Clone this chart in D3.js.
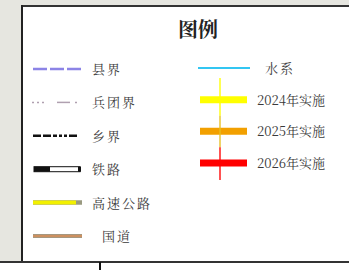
<!DOCTYPE html>
<html><head><meta charset="utf-8">
<script src="https://cdn.jsdelivr.net/npm/d3@7/dist/d3.min.js"></script>
<style>html,body{margin:0;padding:0;background:#fff;overflow:hidden}</style>
</head><body>
<script>
const title = "图例";
const leftLabels = ["县界", "兵团界", "乡界", "铁路", "高速公路", "国道"];
const leftTypes = ["county", "corps", "township", "rail", "highway", "national"];
const rightLabels = ["水系", "2024年实施", "2025年实施", "2026年实施"];
const rightColors = ["#33c6f2", "#ffff00", "#f2a000", "#ff0000"];
const rightWidths = [2, 7, 7, 7];

const W = 349, H = 270;
const svg = d3.select("body").append("svg").attr("width", W).attr("height", H);
const font = "'Noto Serif CJK SC','Noto Sans CJK SC',serif";

svg.append("rect").attr("x",0).attr("y",0).attr("width",W).attr("height",H).attr("fill","#fff");
svg.append("rect").attr("x",0).attr("y",0).attr("width",W).attr("height",6).attr("fill","#e6e6e0");
svg.append("rect").attr("x",0).attr("y",0).attr("width",22).attr("height",262).attr("fill","#e6e6e0");
svg.append("line").attr("x1",22).attr("x2",W).attr("y1",6).attr("y2",6).attr("stroke","#333").attr("stroke-width",2);
svg.append("line").attr("x1",22).attr("x2",22).attr("y1",5).attr("y2",263).attr("stroke","#222").attr("stroke-width",2);
svg.append("line").attr("x1",0).attr("x2",W).attr("y1",262).attr("y2",262).attr("stroke","#333").attr("stroke-width",2);
svg.append("line").attr("x1",100).attr("x2",100).attr("y1",262).attr("y2",270).attr("stroke","#111").attr("stroke-width",2);

svg.append("text").attr("x",198).attr("y",37).attr("text-anchor","middle")
  .attr("font-family",font).attr("font-weight","bold").attr("font-size",20).attr("fill","#222").text(title);

const yL = d3.scalePoint().domain(leftLabels).range([69, 236]);
const yR = d3.scalePoint().domain(rightLabels).range([68, 163]);

const gL = svg.append("g");
leftLabels.forEach((lab, i) => {
  const y = yL(lab), t = leftTypes[i];
  const x1 = 33, x2 = 82;
  if (t === "county") {
    gL.append("line").attr("x1",x1).attr("x2",x2).attr("y1",y).attr("y2",y)
      .attr("stroke","#8c84e6").attr("stroke-width",2.5).attr("stroke-dasharray","14,3");
  } else if (t === "corps") {
    [[32,34],[37,39],[42,44],[57,70],[75,77]].forEach(d=>{
      gL.append("line").attr("x1",d[0]).attr("x2",d[1]).attr("y1",y).attr("y2",y)
        .attr("stroke","#b0a0b0").attr("stroke-width",1.5);
    });
  } else if (t === "township") {
    gL.append("line").attr("x1",x1).attr("x2",x2+1).attr("y1",y).attr("y2",y)
      .attr("stroke","#111").attr("stroke-width",2.5).attr("stroke-dasharray","8,2,8,2,4,2,3,2,3,2,8");
  } else if (t === "rail") {
    gL.append("rect").attr("x",34).attr("y",y-2.5).attr("width",46).attr("height",5)
      .attr("fill","#fff").attr("stroke","#111").attr("stroke-width",1);
    gL.append("rect").attr("x",34).attr("y",y-2.5).attr("width",16).attr("height",5).attr("fill","#111");
    gL.append("rect").attr("x",78).attr("y",y-2.5).attr("width",3).attr("height",5).attr("fill","#111");
  } else if (t === "highway") {
    gL.append("line").attr("x1",x1).attr("x2",x2).attr("y1",y).attr("y2",y)
      .attr("stroke","#9a9a80").attr("stroke-width",4.5);
    gL.append("line").attr("x1",x1).attr("x2",x2-6).attr("y1",y).attr("y2",y)
      .attr("stroke","#f2f000").attr("stroke-width",4);
  } else if (t === "national") {
    gL.append("line").attr("x1",x1).attr("x2",x2).attr("y1",y).attr("y2",y)
      .attr("stroke","#9a9a8a").attr("stroke-width",4);
    gL.append("line").attr("x1",x1).attr("x2",x2).attr("y1",y).attr("y2",y)
      .attr("stroke","#cc9060").attr("stroke-width",2.5);
  }
  gL.append("text").attr("x", t === "national" ? 102 : 92).attr("y", y+5)
    .attr("font-family",font).attr("font-size",13).attr("letter-spacing",2).attr("fill","#3a3a3a").text(lab);
});

const gR = svg.append("g");
const yrs = rightLabels.slice(1);
const segs = [[78, yR(yrs[0])+16, rightColors[1]], [yR(yrs[0])+16, yR(yrs[1])+16, "#e8c020"], [yR(yrs[1])+16, 180, rightColors[3]]];
rightLabels.forEach((lab, i) => {
  const y = yR(lab);
  gR.append("line").attr("x1", i===0?198:200).attr("x2", i===0?250:247).attr("y1",y).attr("y2",y)
    .attr("stroke",rightColors[i]).attr("stroke-width",rightWidths[i]);
  gR.append("text").attr("x", i===0 ? 265 : 257).attr("y", y+5)
    .attr("font-family",font).attr("font-size",13).attr("letter-spacing", i===0?2:0).attr("fill","#3a3a3a").text(lab);
});
segs.forEach(s => gR.append("line").attr("x1",220).attr("x2",220).attr("y1",s[0]).attr("y2",s[1])
  .attr("stroke",s[2]).attr("stroke-width",1.5).attr("opacity",0.9));
</script>
</body></html>
